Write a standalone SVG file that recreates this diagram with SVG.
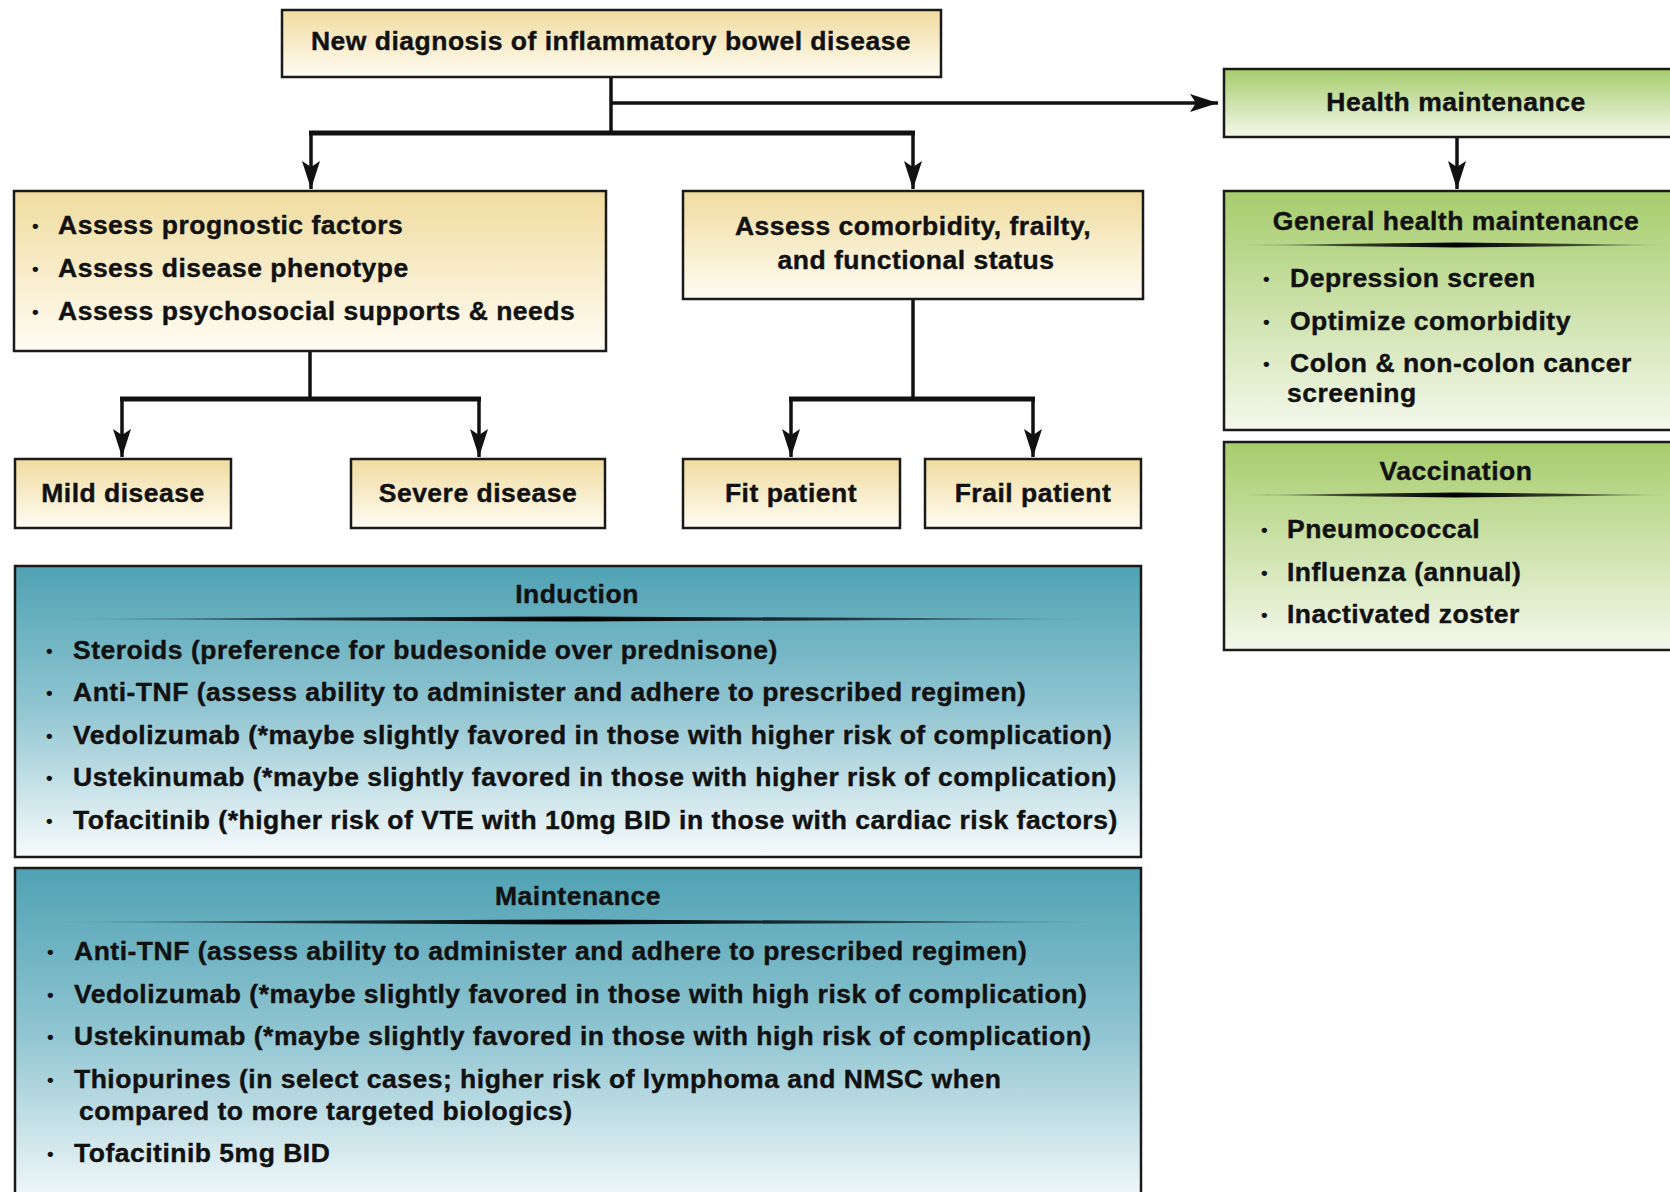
<svg xmlns="http://www.w3.org/2000/svg" width="1670" height="1192" viewBox="0 0 1670 1192">
  <defs>
    <linearGradient id="gYellow" x1="0" y1="0" x2="0" y2="1">
      <stop offset="0" stop-color="#f0dc9f"/>
      <stop offset="1" stop-color="#fffcf3"/>
    </linearGradient>
    <linearGradient id="gGreen" x1="0" y1="0" x2="0" y2="1">
      <stop offset="0" stop-color="#a6cc6b"/>
      <stop offset="1" stop-color="#f4f8ec"/>
    </linearGradient>
    <linearGradient id="gTeal" x1="0" y1="0" x2="0" y2="1">
      <stop offset="0" stop-color="#4fa2b4"/>
      <stop offset="0.5" stop-color="#92c6d2"/>
      <stop offset="1" stop-color="#f7fbfc"/>
    </linearGradient>
    <linearGradient id="gRule" x1="0" y1="0" x2="1" y2="0">
      <stop offset="0" stop-color="#000" stop-opacity="0"/>
      <stop offset="0.25" stop-color="#000" stop-opacity="0.7"/>
      <stop offset="0.5" stop-color="#000" stop-opacity="1"/>
      <stop offset="0.75" stop-color="#000" stop-opacity="0.7"/>
      <stop offset="1" stop-color="#000" stop-opacity="0"/>
    </linearGradient>
    <marker id="arrow" markerUnits="userSpaceOnUse" viewBox="0 0 28 18" refX="28" refY="9" markerWidth="28" markerHeight="18" orient="auto">
      <path d="M0,0 L28,9 L0,18 L6,9 Z" fill="#111"/>
    </marker>
  </defs>
  <style>
    text { font-family: "Liberation Sans", Arial, Helvetica, sans-serif; font-weight: bold; fill: #111; }
    .t { font-size: 26.5px; letter-spacing: 0.5px; stroke: #111; stroke-width: 0.4px; }
    .c { text-anchor: middle; }
    .b { font-size: 19px; }
    .box { stroke: #1a1a1a; stroke-width: 2.5; }
    .y { fill: url(#gYellow); }
    .g { fill: url(#gGreen); }
    .tl { fill: url(#gTeal); }
    .rule { fill: url(#gRule); }
    .conn line { stroke: #111; fill: none; }
    .stem { stroke-width: 3.5; }
    .bar { stroke-width: 5; }
  </style>
  <rect width="1670" height="1192" fill="#ffffff"/>

  <g id="connectors" class="conn">
    <line class="stem" x1="611" y1="77" x2="611" y2="133"/>
    <line class="stem" x1="611" y1="103" x2="1218" y2="103" marker-end="url(#arrow)"/>
    <line class="bar" x1="309" y1="133" x2="915" y2="133"/>
    <line class="stem" x1="311" y1="131" x2="311" y2="189" marker-end="url(#arrow)"/>
    <line class="stem" x1="913" y1="131" x2="913" y2="189" marker-end="url(#arrow)"/>
    <line class="stem" x1="1457" y1="137" x2="1457" y2="189" marker-end="url(#arrow)"/>
    <line class="stem" x1="310" y1="351" x2="310" y2="399"/>
    <line class="bar" x1="120" y1="399" x2="481" y2="399"/>
    <line class="stem" x1="122" y1="397" x2="122" y2="457" marker-end="url(#arrow)"/>
    <line class="stem" x1="479" y1="397" x2="479" y2="457" marker-end="url(#arrow)"/>
    <line class="stem" x1="913" y1="299" x2="913" y2="399"/>
    <line class="bar" x1="789" y1="399" x2="1035" y2="399"/>
    <line class="stem" x1="791" y1="397" x2="791" y2="457" marker-end="url(#arrow)"/>
    <line class="stem" x1="1033" y1="397" x2="1033" y2="457" marker-end="url(#arrow)"/>
  </g>

  <g id="new-diagnosis">
    <rect class="box y" x="282" y="10" width="659" height="67"/>
    <text class="t c" x="611" y="50">New diagnosis of inflammatory bowel disease</text>
  </g>

  <g id="assess-prognosis">
    <rect class="box y" x="14" y="191" width="592" height="160"/>
    <text class="b" x="32" y="232">•</text>
    <text class="t" x="58" y="234">Assess prognostic factors</text>
    <text class="b" x="32" y="275">•</text>
    <text class="t" x="58" y="277">Assess disease phenotype</text>
    <text class="b" x="32" y="318">•</text>
    <text class="t" x="58" y="320">Assess psychosocial supports &amp; needs</text>
  </g>

  <g id="assess-comorbidity">
    <rect class="box y" x="683" y="191" width="460" height="108"/>
    <text class="t c" x="913" y="235">Assess comorbidity, frailty,</text>
    <text class="t c" x="916" y="269">and functional status</text>
  </g>

  <g id="mild-disease">
    <rect class="box y" x="15" y="459" width="216" height="69"/>
    <text class="t c" x="123" y="502">Mild disease</text>
  </g>
  <g id="severe-disease">
    <rect class="box y" x="351" y="459" width="254" height="69"/>
    <text class="t c" x="478" y="502">Severe disease</text>
  </g>
  <g id="fit-patient">
    <rect class="box y" x="683" y="459" width="217" height="69"/>
    <text class="t c" x="791" y="502">Fit patient</text>
  </g>
  <g id="frail-patient">
    <rect class="box y" x="925" y="459" width="216" height="69"/>
    <text class="t c" x="1033" y="502">Frail patient</text>
  </g>

  <g id="induction">
    <rect class="box tl" x="15" y="566" width="1126" height="291"/>
    <text class="t c" x="577" y="603">Induction</text>
    <path class="rule" d="M44,619 L577,616.5 L1110,619 L577,621.5 Z"/>
    <text class="b" x="46" y="657">•</text>
    <text class="t" x="73" y="659">Steroids (preference for budesonide over prednisone)</text>
    <text class="b" x="46" y="699">•</text>
    <text class="t" x="73" y="701">Anti-TNF (assess ability to administer and adhere to prescribed regimen)</text>
    <text class="b" x="46" y="742">•</text>
    <text class="t" x="73" y="744">Vedolizumab (*maybe slightly favored in those with higher risk of complication)</text>
    <text class="b" x="46" y="784">•</text>
    <text class="t" x="73" y="786">Ustekinumab (*maybe slightly favored in those with higher risk of complication)</text>
    <text class="b" x="46" y="827">•</text>
    <text class="t" x="73" y="829">Tofacitinib (*higher risk of VTE with 10mg BID in those with cardiac risk factors)</text>
  </g>

  <g id="maintenance">
    <rect class="box tl" x="15" y="868" width="1126" height="340"/>
    <text class="t c" x="578" y="905">Maintenance</text>
    <path class="rule" d="M44,922 L577,919.5 L1110,922 L577,924.5 Z"/>
    <text class="b" x="47" y="958">•</text>
    <text class="t" x="74" y="960">Anti-TNF (assess ability to administer and adhere to prescribed regimen)</text>
    <text class="b" x="47" y="1001">•</text>
    <text class="t" x="74" y="1003">Vedolizumab (*maybe slightly favored in those with high risk of complication)</text>
    <text class="b" x="47" y="1043">•</text>
    <text class="t" x="74" y="1045">Ustekinumab (*maybe slightly favored in those with high risk of complication)</text>
    <text class="b" x="47" y="1086">•</text>
    <text class="t" x="74" y="1088">Thiopurines (in select cases; higher risk of lymphoma and NMSC when</text>
    <text class="t" x="79" y="1120">compared to more targeted biologics)</text>
    <text class="b" x="47" y="1160">•</text>
    <text class="t" x="74" y="1162">Tofacitinib 5mg BID</text>
  </g>

  <g id="health-maintenance">
    <rect class="box g" x="1224" y="69" width="470" height="68"/>
    <text class="t c" x="1456" y="111">Health maintenance</text>
  </g>

  <g id="general-health-maintenance">
    <rect class="box g" x="1224" y="191" width="470" height="239"/>
    <text class="t c" x="1456" y="230">General health maintenance</text>
    <path class="rule" d="M1238,245 L1456,242.5 L1674,245 L1456,247.5 Z"/>
    <text class="b" x="1263" y="285">•</text>
    <text class="t" x="1290" y="287">Depression screen</text>
    <text class="b" x="1263" y="328">•</text>
    <text class="t" x="1290" y="330">Optimize comorbidity</text>
    <text class="b" x="1263" y="370">•</text>
    <text class="t" x="1290" y="372">Colon &amp; non-colon cancer</text>
    <text class="t" x="1287" y="402">screening</text>
  </g>

  <g id="vaccination">
    <rect class="box g" x="1224" y="442" width="470" height="208"/>
    <text class="t c" x="1456" y="480">Vaccination</text>
    <path class="rule" d="M1238,495 L1456,492.5 L1674,495 L1456,497.5 Z"/>
    <text class="b" x="1261" y="536">•</text>
    <text class="t" x="1287" y="538">Pneumococcal</text>
    <text class="b" x="1261" y="579">•</text>
    <text class="t" x="1287" y="581">Influenza (annual)</text>
    <text class="b" x="1261" y="621">•</text>
    <text class="t" x="1287" y="623">Inactivated zoster</text>
  </g>
</svg>
